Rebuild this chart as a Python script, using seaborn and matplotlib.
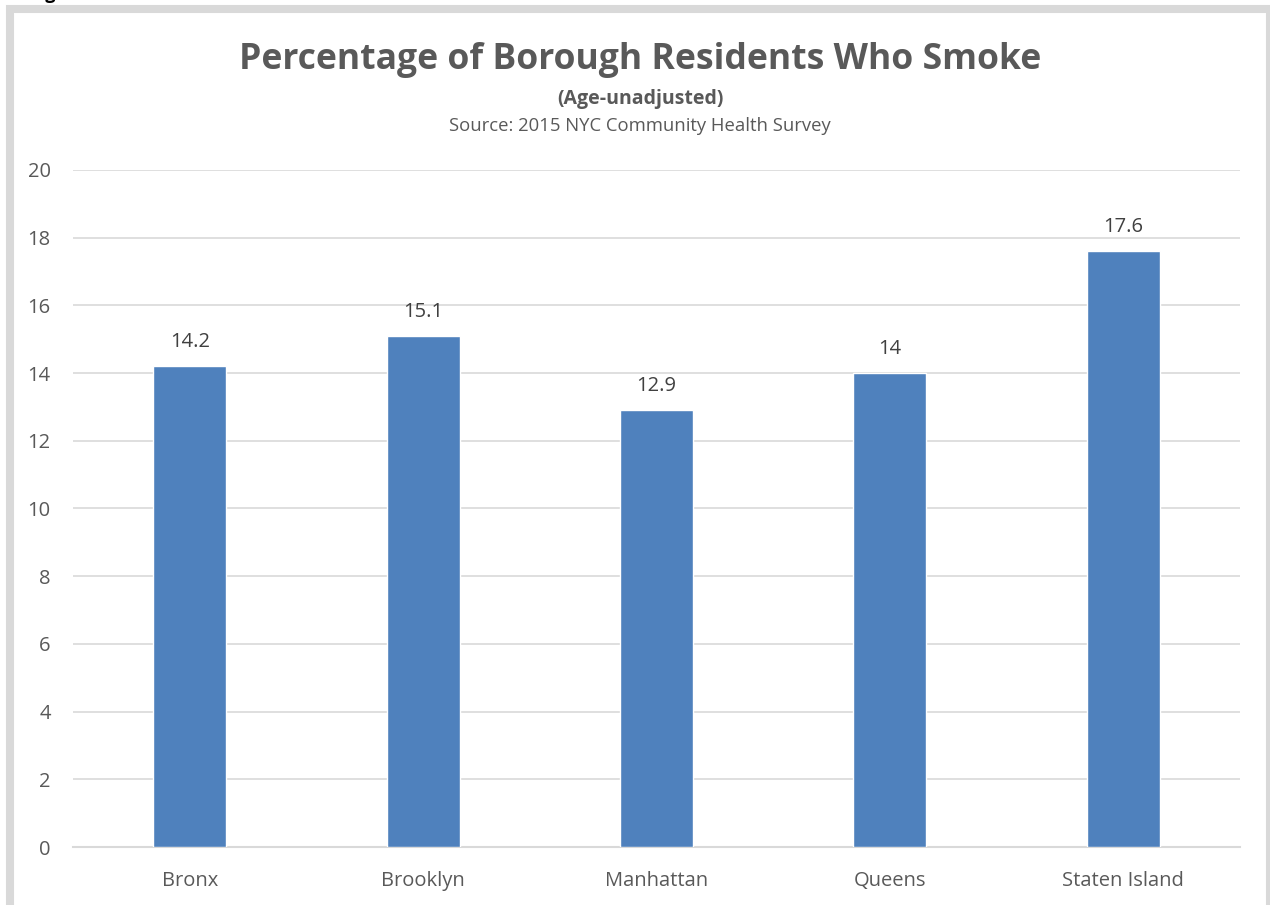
import matplotlib
matplotlib.use("Agg")
import matplotlib.pyplot as plt
import seaborn as sns
import pandas as pd
from matplotlib.patches import Rectangle

boroughs = ["Bronx", "Brooklyn", "Manhattan", "Queens", "Staten Island"]
smoke_pct = [14.2, 15.1, 12.9, 14, 17.6]
value_labels = ["14.2", "15.1", "12.9", "14", "17.6"]
yticks = [0, 2, 4, 6, 8, 10, 12, 14, 16, 18, 20]

sns.set_theme(style="white")
plt.rcParams['font.family'] = ['Open Sans', 'DejaVu Sans']

df = pd.DataFrame({"borough": boroughs, "pct": smoke_pct})

fig = plt.figure(figsize=(12.7, 9.05), dpi=100)
ax = fig.add_axes([73/1270, 58/905, 1167/1270, 677/905])

sns.barplot(data=df, x="borough", y="pct", color="#4F81BD", saturation=1,
            width=0.313, ax=ax, zorder=3)

ax.set_xlim(-0.5, 4.5)
ax.set_ylim(0, 20)
ax.set_yticks(yticks)
ax.set_yticklabels([str(t) for t in yticks])
ax.yaxis.grid(True, color="#D9D9D9", linewidth=1.2, zorder=0)
ax.set_axisbelow(True)
for s in ["top", "right", "left"]:
    ax.spines[s].set_visible(False)
ax.spines["bottom"].set_color("#D9D9D9")
ax.spines["bottom"].set_linewidth(1.5)
ax.set_xlabel("")
ax.set_ylabel("")
ax.tick_params(axis="both", length=0, labelsize=14.5, colors="#595959")
ax.tick_params(axis="x", pad=17)
ax.tick_params(axis="y", pad=16)

for i, (v, lab) in enumerate(zip(smoke_pct, value_labels)):
    ax.annotate(lab, (i, v), xytext=(0, 10), textcoords="offset points",
                ha="center", va="bottom", fontsize=14.5, color="#404040")

fig.text(640/1270, 1 - 60/905, "Percentage of Borough Residents Who Smoke",
         ha="center", va="center", fontsize=25.6, fontweight="bold", color="#595959")
fig.text(640/1270, 1 - 99/905, "(Age-unadjusted)", ha="center", va="center",
         fontsize=14, fontweight="bold", color="#595959")
fig.text(640/1270, 1 - 126/905, "Source: 2015 NYC Community Health Survey",
         ha="center", va="center", fontsize=13.3, color="#595959")

# outer frame
fig.patches.append(Rectangle((10/1270, -0.05), 1260/1270, 1.05 - 9/905,
                             transform=fig.transFigure, fill=False,
                             edgecolor="#D9D9D9", linewidth=5.8))
fig.text(30/1270, 1 - (-6)/905, "Figure 3", ha="left", va="center", fontsize=13,
         fontweight="bold", color="black")

fig.savefig("out.png", dpi=100)
